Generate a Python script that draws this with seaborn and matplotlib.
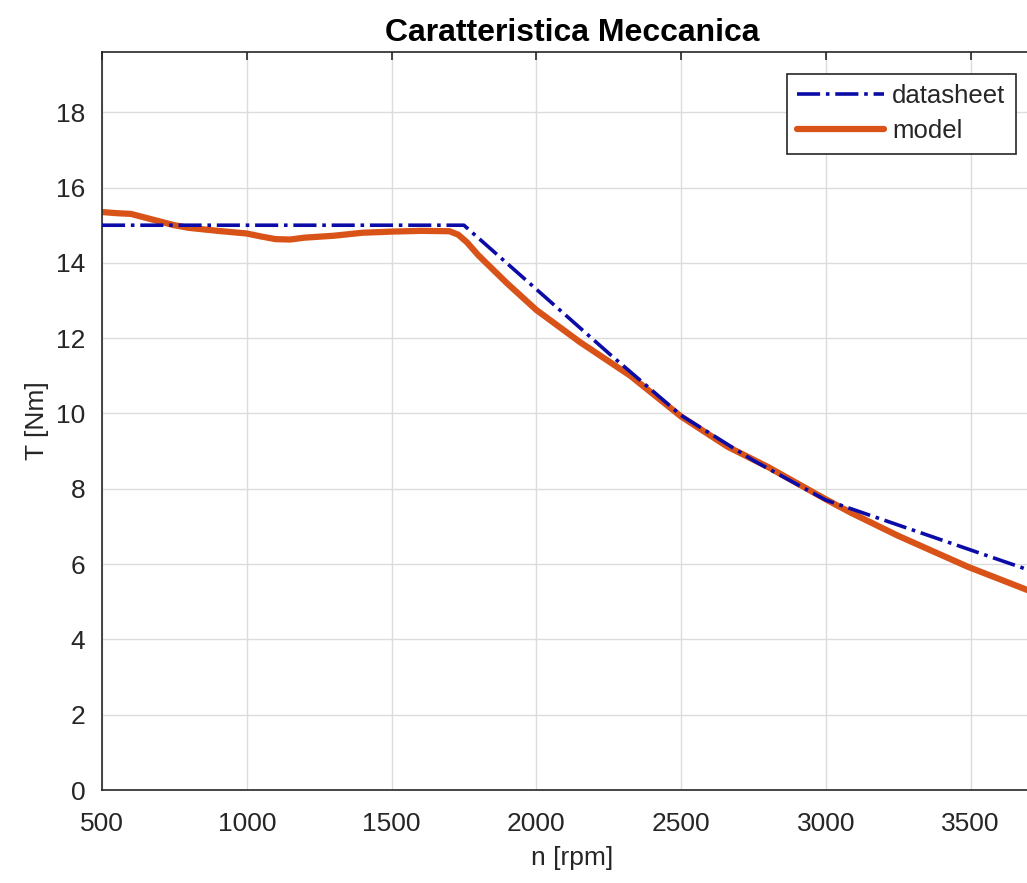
import pandas as pd
import matplotlib.pyplot as plt
import seaborn as sns

# datasheet curve
ds_rpm = [500, 1750, 2000, 2250, 2500, 2750, 3000, 4000]
ds_torque = [15.0, 15.0, 13.3, 11.6, 9.95, 8.75, 7.7, 5.05]

# model curve
model_rpm = [500, 550, 600, 650, 700, 750, 800, 900, 1000, 1050, 1100, 1150,
             1200, 1300, 1400, 1500, 1600, 1700, 1730, 1760, 1800, 1900, 2000,
             2150, 2325, 2500, 2660, 2800, 3000, 3085, 3250, 3490, 3600, 3700]
model_torque = [15.35, 15.32, 15.3, 15.2, 15.1, 15.0, 14.93, 14.85, 14.78, 14.7,
                14.63, 14.62, 14.67, 14.72, 14.8, 14.83, 14.85, 14.84, 14.75,
                14.55, 14.2, 13.45, 12.75, 11.9, 11.0, 9.92, 9.12, 8.58, 7.72,
                7.37, 6.75, 5.93, 5.6, 5.3]

x_ticks = [500, 1000, 1500, 2000, 2500, 3000, 3500]
y_ticks = [0, 2, 4, 6, 8, 10, 12, 14, 16, 18]

df_ds = pd.DataFrame({"rpm": ds_rpm, "T": ds_torque})
df_model = pd.DataFrame({"rpm": model_rpm, "T": model_torque})

sns.set_style("white")
plt.rcParams["font.family"] = ["Liberation Sans", "DejaVu Sans"]
ink = "#262626"

fig = plt.figure(figsize=(10.27, 8.83), dpi=100)
# axes runs past the right edge, like the cropped original
ax = fig.add_axes([0.0993, 0.1053, 0.9163, 0.8358])

sns.lineplot(data=df_ds, x="rpm", y="T", ax=ax, color="#0b0ba8",
             linestyle="-.", linewidth=2.6, label="datasheet", zorder=3)
sns.lineplot(data=df_model, x="rpm", y="T", ax=ax, color="#D95319",
             linewidth=4.5, label="model", zorder=2)

ax.set_xlim(500, 3750)
ax.set_ylim(0, 19.6)
ax.set_xticks(x_ticks)
ax.set_yticks(y_ticks)
ax.grid(True, color="#dcdcdc", linewidth=1)
ax.set_axisbelow(True)

for sp in ax.spines.values():
    sp.set_color(ink)
    sp.set_linewidth(1.2)

ax.tick_params(direction="in", length=6, width=1.2, top=True, right=True,
               labelsize=19, colors=ink)
ax.tick_params(axis="x", pad=16)
ax.tick_params(axis="y", pad=12)

ax.set_xlabel("n [rpm]", fontsize=19, color=ink, labelpad=7)
ax.set_ylabel("T [Nm]", fontsize=19, color=ink, labelpad=5)
ax.set_title("Caratteristica Meccanica", fontsize=23, fontweight="bold",
             color="black", pad=8)

leg = ax.legend(loc="upper right", bbox_to_anchor=(0.989, 0.916),
                bbox_transform=fig.transFigure, borderaxespad=0,
                fontsize=18.5, frameon=True, fancybox=False, framealpha=1,
                handlelength=3.4, handletextpad=0.3, borderpad=0.4,
                labelspacing=0.42)
leg.get_frame().set_edgecolor(ink)
leg.get_frame().set_linewidth(1.2)
for t in leg.get_texts():
    t.set_color(ink)

fig.savefig("out.png", dpi=100)
